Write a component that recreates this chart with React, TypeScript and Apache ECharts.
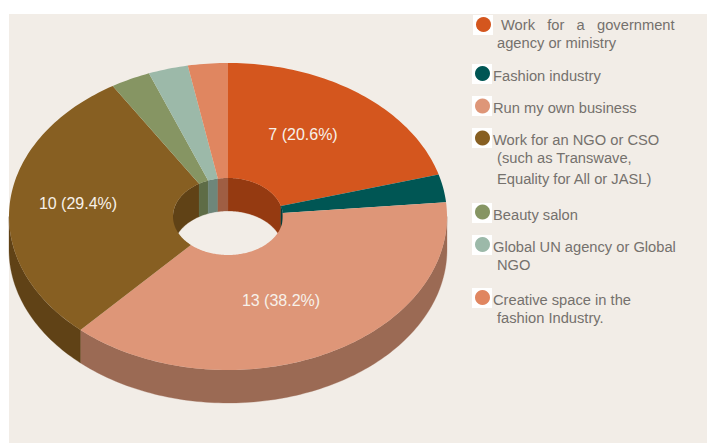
import React, { useEffect, useRef } from "react";
import * as echarts from "echarts";

const categories = [
  "Work for a government agency or ministry",
  "Fashion industry",
  "Run my own business",
  "Work for an NGO or CSO (such as Transwave, Equality for All or JASL)",
  "Beauty salon",
  "Global UN agency or Global NGO",
  "Creative space in the fashion Industry.",
];
const values = [7, 1, 13, 10, 1, 1, 1];
const topColors = ["#D4561E", "#005654", "#DE9678", "#875F22", "#869563", "#9CB9A9", "#E08660"];
const sideColors = ["#953A11", "#003F3D", "#9B6A54", "#604216", "#5E6C46", "#6E867A", "#9F5E43"];
const legendLines = [
  ["Work   for   a   government", "agency or ministry"],
  ["Fashion industry"],
  ["Run my own business"],
  ["Work for an NGO or CSO", "(such as Transwave,", "Equality for All or JASL)"],
  ["Beauty salon"],
  ["Global UN agency or Global", "NGO"],
  ["Creative space in the", "fashion Industry."],
];

// Layout, in page pixels
const CX = 228;
const CY = 216.5;
const RX = 219;
const RY = 153.5;
const HX = 55;
const HY = 38.5;
const DEPTH = 33;
const labelPos: Record<number, [number, number]> = { 0: [303, 134], 2: [281, 300], 3: [78, 203] };
const legendLayout = [
  { box: [473, 15], c: [483.5, 24.5], text: [[501, 25], [497, 43]] },
  { box: [472, 64], c: [482.5, 73.5], text: [[493, 76]] },
  { box: [472, 96], c: [482.5, 106], text: [[493, 108]] },
  { box: [472, 128], c: [482.5, 138], text: [[493, 139.5], [497, 158], [497, 179]] },
  { box: [472, 203], c: [482.5, 212], text: [[493, 215]] },
  { box: [472, 235], c: [482.5, 244.5], text: [[493, 247], [497, 265]] },
  { box: [472, 288], c: [482.5, 297.5], text: [[493, 300], [497, 318]] },
];

const total = values.reduce((a, b) => a + b, 0);
const FONT = "Liberation Sans";

function angleBounds(i: number): [number, number] {
  const before = values.slice(0, i).reduce((a, b) => a + b, 0);
  return [(before / total) * Math.PI * 2, ((before + values[i]) / total) * Math.PI * 2];
}
const pt = (rx: number, ry: number, a: number, dy = 0) =>
  `${(CX + rx * Math.sin(a)).toFixed(3)} ${(CY - ry * Math.cos(a) + dy).toFixed(3)}`;

// Elliptical arc flattened in small steps, clockwise from a to b
function arc(rx: number, ry: number, a: number, b: number, dy = 0) {
  const n = Math.max(2, Math.ceil(Math.abs(b - a) / 0.02));
  const pts: string[] = [];
  for (let k = 0; k <= n; k++) pts.push(pt(rx, ry, a + ((b - a) * k) / n, dy));
  return pts;
}
const poly = (pts: string[]) => "M" + pts.join("L") + "Z";

function clip(a: number, b: number, lo: number, hi: number): [number, number] | null {
  const s = Math.max(a, lo);
  const e = Math.min(b, hi);
  return s < e ? [s, e] : null;
}

function renderWalls(params: any) {
  const idx = params.dataIndex;
  const [a, b] = angleBounds(idx);
  const children: any[] = [];
  const style = { fill: sideColors[idx], stroke: sideColors[idx], lineWidth: 0.3 };
  // near half of the outer wall
  const outer = clip(a, b, Math.PI / 2, (Math.PI * 3) / 2);
  if (outer) {
    children.push({
      type: "path",
      shape: {
        pathData: poly([...arc(RX, RY, outer[0], outer[1]), ...arc(RX, RY, outer[1], outer[0], DEPTH)]),
      },
      style,
    });
  }
  // far half of the hole wall, two ranges because the far half wraps round 0
  for (const r of [clip(a, b, 0, Math.PI / 2), clip(a, b, (Math.PI * 3) / 2, Math.PI * 2)]) {
    if (!r) continue;
    children.push({
      type: "path",
      shape: { pathData: poly([...arc(HX, HY, r[0], r[1]), ...arc(HX, HY, r[1], r[0], DEPTH)]) },
      style,
    });
  }
  return { type: "group", children };
}

function renderTop(params: any, api: any) {
  const idx = params.dataIndex;
  const [a, b] = angleBounds(idx);
  const v = api.value(0);
  const children: any[] = [
    {
      type: "path",
      shape: { pathData: poly([...arc(RX, RY, a, b), ...arc(HX, HY, b, a)]) },
      style: { fill: topColors[idx] },
    },
  ];
  const p = labelPos[idx];
  if (p) {
    children.push({
      type: "text",
      x: p[0],
      y: p[1],
      z2: 10,
      style: {
        text: `${v} (${((v / total) * 100).toFixed(1)}%)`,
        fill: "#F7F1EA",
        font: `16px "${FONT}"`,
        align: "center",
        verticalAlign: "middle",
      },
    });
  }
  return { type: "group", children };
}

const legendGraphic: any[] = [
  { type: "rect", z: -1, shape: { x: 9, y: 14, width: 698, height: 429 }, style: { fill: "#F2EDE7" } },
];
legendLayout.forEach((l, i) => {
  legendGraphic.push({
    type: "rect",
    shape: { x: l.box[0], y: l.box[1], width: 20, height: 20 },
    style: { fill: "#FFFFFF" },
  });
  legendGraphic.push({
    type: "circle",
    shape: { cx: l.c[0], cy: l.c[1], r: 7.5 },
    style: { fill: topColors[i] },
  });
  legendLines[i].forEach((line, j) => {
    legendGraphic.push({
      type: "text",
      x: l.text[j][0],
      y: l.text[j][1],
      style: {
        text: line,
        fill: "#75716D",
        font: `14.7px "${FONT}"`,
        align: "left",
        verticalAlign: "middle",
      },
    });
  });
});

export default function App() {
  const ref = useRef<HTMLDivElement>(null);
  useEffect(() => {
    const chart = echarts.init(ref.current!, null, { renderer: "svg" });
    const data = values.map((v, i) => ({ name: categories[i], value: [v] }));
    chart.setOption({
      animation: false,
      backgroundColor: "#FFFFFF",
      graphic: { elements: legendGraphic },
      series: [
        { type: "custom", name: "walls", coordinateSystem: "none", renderItem: renderWalls, data, silent: true, z: 2 },
        { type: "custom", name: "top", coordinateSystem: "none", renderItem: renderTop, data, silent: true, z: 3 },
      ],
    });
    return () => chart.dispose();
  }, []);
  return <div ref={ref} style={{ position: "fixed", left: 0, top: 0, width: 707, height: 443 }} />;
}
